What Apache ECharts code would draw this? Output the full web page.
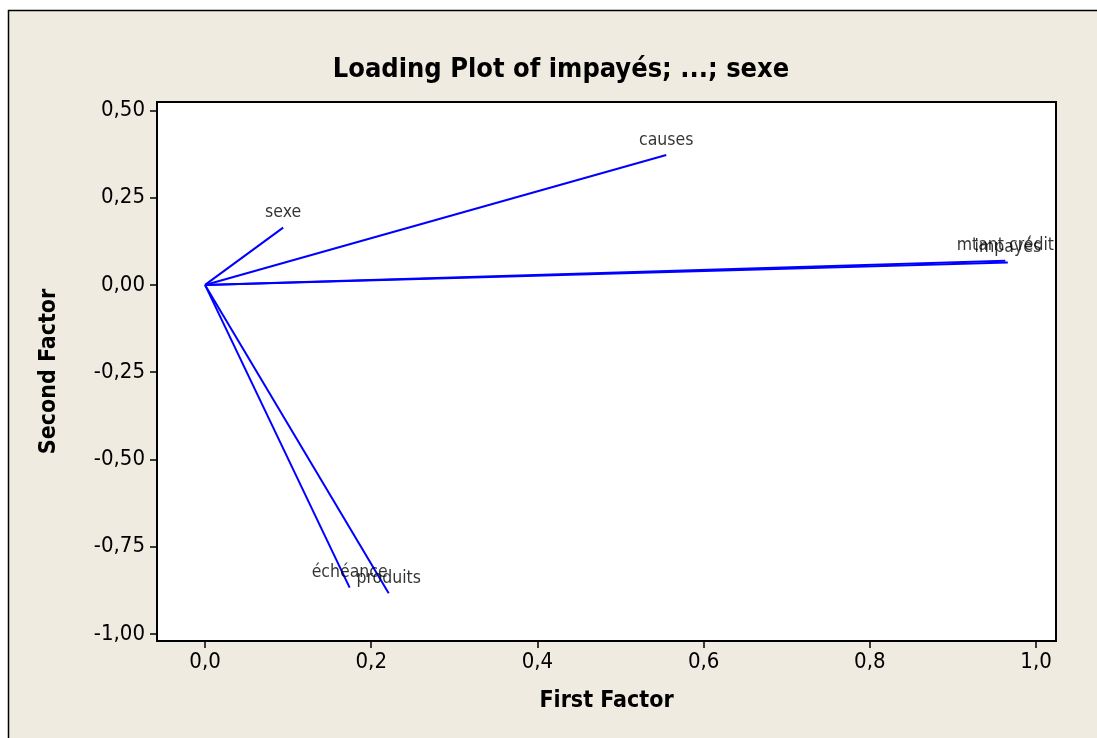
<!DOCTYPE html>
<html>
<head>
<meta charset="utf-8">
<script src="https://cdn.jsdelivr.net/npm/echarts@6/dist/echarts.min.js"></script>
<style>html,body{margin:0;padding:0;background:#fff}#c{width:1097px;height:738px}</style>
</head>
<body>
<div id="c"></div>
<script>
var variables = ["impayés", "mtant crédit", "causes", "sexe", "échéance", "produits"];
var firstFactor = [0.966, 0.963, 0.555, 0.094, 0.174, 0.221];
var secondFactor = [0.064, 0.069, 0.372, 0.164, -0.867, -0.883];
var xTicks = [0.0, 0.2, 0.4, 0.6, 0.8, 1.0];
var yTicks = [0.50, 0.25, 0.00, -0.25, -0.50, -0.75, -1.00];

var FONT = "'DejaVu Sans Condensed', 'DejaVu Sans', sans-serif";
var chart = echarts.init(document.getElementById('c'));

var series = [];
variables.forEach(function (name, i) {
  series.push({
    type: 'line',
    name: name,
    data: [[0, 0], [firstFactor[i], secondFactor[i]]],
    showSymbol: false,
    symbol: 'none',
    lineStyle: { color: '#0000FF', width: 2 },
    animation: false,
    silent: true,
    z: 3
  });
});
series.push({
  type: 'scatter',
  data: variables.map(function (n, i) { return { name: n, value: [firstFactor[i], secondFactor[i]] }; }),
  symbolSize: 0,
  label: {
    show: true,
    position: 'top',
    distance: 6,
    formatter: function (p) { return p.name; },
    color: '#000',
    fontFamily: FONT,
    fontSize: 17.5
  },
  animation: false,
  silent: true,
  z: 4
});

chart.setOption({
  backgroundColor: '#ffffff',
  animation: false,
  graphic: [{
    type: 'rect',
    z: -10,
    silent: true,
    shape: { x: 8.5, y: 10.5, width: 1100, height: 740 },
    style: { fill: '#EFEBE1', stroke: '#000', lineWidth: 1.5 }
  }],
  title: {
    text: 'Loading Plot of impayés; ...; sexe',
    left: 556, top: 51, textAlign: 'center',
    textStyle: { fontFamily: FONT, fontWeight: 'bold', fontSize: 27, color: '#000' }
  },
  grid: {
    left: 157, top: 102, right: 41, bottom: 97,
    show: true, backgroundColor: '#ffffff', borderColor: '#000', borderWidth: 2
  },
  xAxis: {
    type: 'value',
    min: -0.0578, max: 1.024,
    name: 'First Factor', nameLocation: 'middle', nameGap: 49,
    nameTextStyle: { fontFamily: FONT, fontWeight: 'bold', fontSize: 23, color: '#000' },
    axisLine: { show: true, onZero: false, lineStyle: { color: '#000', width: 2 } },
    axisTick: { show: true, length: 7, inside: false, customValues: xTicks, lineStyle: { color: '#000', width: 1.5 } },
    axisLabel: {
      customValues: xTicks, margin: 10, color: '#000', fontFamily: FONT, fontSize: 22,
      formatter: function (v) { return v.toFixed(1).replace('.', ','); }
    },
    splitLine: { show: false }
  },
  yAxis: {
    type: 'value',
    min: -1.020, max: 0.524,
    name: 'Second Factor', nameLocation: 'middle', nameGap: 96, nameRotate: 90,
    nameTextStyle: { fontFamily: FONT, fontWeight: 'bold', fontSize: 23, color: '#000' },
    axisLine: { show: true, onZero: false, lineStyle: { color: '#000', width: 2 } },
    axisTick: { show: true, length: 7, inside: false, customValues: yTicks, lineStyle: { color: '#000', width: 1.5 } },
    axisLabel: {
      customValues: yTicks, margin: 12, color: '#000', fontFamily: FONT, fontSize: 22,
      formatter: function (v) { return v.toFixed(2).replace('.', ','); }
    },
    splitLine: { show: false }
  },
  series: series
});
</script>
</body>
</html>
